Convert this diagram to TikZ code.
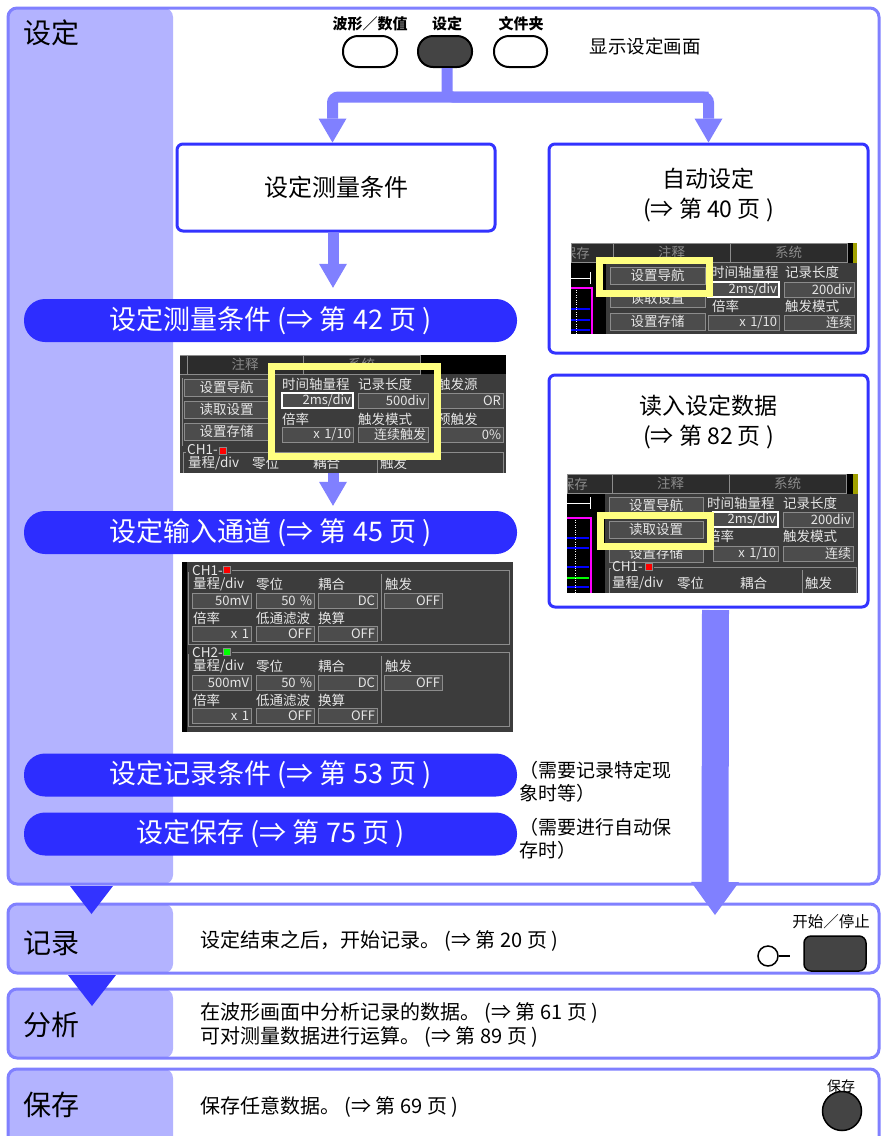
\documentclass[tikz,border=0pt]{standalone}
\usepackage{fontspec}
\setmainfont{Noto Sans CJK SC}
\usetikzlibrary{arrows.meta, positioning, calc}
\definecolor{framecol}{HTML}{8080FF}
\definecolor{bandcol}{HTML}{B3B3FF}
\definecolor{stepblue}{HTML}{3333FF}
\definecolor{pillblue}{HTML}{2D2DFF}
\definecolor{hiyellow}{HTML}{FFFF80}
\definecolor{keydark}{HTML}{444444}
\definecolor{panelcol}{HTML}{3C3C3C}
\definecolor{fieldcol}{HTML}{4C4C4C}
\definecolor{fieldedge}{HTML}{8C8C8C}
\definecolor{scrtext}{HTML}{E6E6E6}
\definecolor{tabcol}{HTML}{2C2C2C}
\definecolor{tabtext}{HTML}{8A8A8A}
\definecolor{chred}{HTML}{FF0000}
\definecolor{chgreen}{HTML}{00FF00}
\definecolor{olivebar}{HTML}{A0A000}
\definecolor{wavemag}{HTML}{FF00FF}
\definecolor{waveblue}{HTML}{0000FF}

\begin{document}
\begin{tikzpicture}[
    x=1pt, y=-1pt,
    secframe/.style={draw=framecol, line width=3pt, rounded corners=9pt, fill=white, minimum width=871pt, anchor=north west, inner sep=0pt, outer sep=0pt,
        path picture={\fill[bandcol] (path picture bounding box.north west) rectangle ([xshift=165pt]path picture bounding box.south west);}},
    seclabel/.style={anchor=west, inner sep=0pt, font=\fontsize{28}{28}\selectfont},
    bodytxt/.style={anchor=west, inner sep=0pt, align=left, font=\fontsize{20}{24}\selectfont},
    stepbox/.style={draw=stepblue, line width=3pt, rounded corners=6pt, fill=white},
    boxtxt/.style={align=center, inner sep=0pt, font=\fontsize{23}{30}\selectfont},
    pill/.style={fill=pillblue, rounded corners=21pt, minimum width=493pt, minimum height=43pt, inner sep=0pt, text=white, font=\fontsize{27}{27}\selectfont},
    note/.style={anchor=west, align=left, inner sep=0pt, font=\fontsize{19}{23}\selectfont},
    keybtn/.style={draw=black, line width=2pt, rounded corners=15pt, minimum width=54pt, minimum height=31pt, fill=white, inner sep=0pt},
    keylbl/.style={inner sep=0pt, font=\bfseries\fontsize{15}{15}\selectfont},
    flowarrow/.style={draw=framecol, line width=11pt, -{Triangle[width=28pt, length=24pt, line width=0pt]}},
    bigflow/.style={draw=framecol, line width=27pt, -{Triangle[width=48pt, length=33pt, line width=0pt]}},
    screen/.style={fill=black, anchor=north west, inner sep=0pt, outer sep=0pt},
    scrtab/.style={fill=tabcol, draw=fieldedge, line width=0.8pt, anchor=north west, minimum width=#1, minimum height=19pt, inner sep=0pt, outer sep=0pt, text=tabtext, font=\fontsize{13.5}{13.5}\selectfont},
    scrbtn/.style={fill=fieldcol, draw=fieldedge, line width=0.8pt, anchor=north west, minimum width=#1, minimum height=17pt, inner sep=0pt, outer sep=0pt, text=scrtext, font=\fontsize{13.5}{13.5}\selectfont},
    scrfield/.style={fill=fieldcol, draw=fieldedge, line width=0.8pt, anchor=north west, text width=#1, minimum height=15pt, inner xsep=2pt, inner ysep=0pt, outer sep=0pt, align=right, text=scrtext, font=\fontsize{13}{13}\selectfont},
    scrsel/.style={draw=white, line width=1.2pt},
    scrlbl/.style={anchor=west, inner sep=0pt, text=scrtext, font=\fontsize{13.5}{13.5}\selectfont},
    tablbl/.style={inner sep=0pt, text=tabtext, font=\fontsize{13.5}{13.5}\selectfont},
    chmark/.style={draw=fieldedge, line width=0.6pt, minimum size=7pt, inner sep=0pt},
    scrline/.style={draw=fieldedge, line width=0.8pt},
    hilite/.style={draw=hiyellow, line width=7pt}
]
\useasboundingbox (0,0) rectangle (881,1136);
\clip (0,0) rectangle (881,1136);

% Section frames
\node[secframe, minimum height=876pt] (setframe) at (8,8) {};
\node[secframe, minimum height=69pt] (recframe) at (8,904) {};
\node[secframe, minimum height=69pt] (anaframe) at (8,989) {};
\node[secframe, minimum height=90pt] (savframe) at (8,1069) {};

\node[seclabel] (setlbl) at (23,33) {设定};
\node[seclabel] (reclbl) at (23,943) {记录};
\node[seclabel] (analbl) at (23,1025) {分析};
\node[seclabel] (savlbl) at (23,1105) {保存};

% Keys
\node[keybtn] (wavekey) at (370,51.5) {};
\node[keybtn, fill=keydark] (setkey) at (445,51.5) {};
\node[keybtn, minimum width=53pt] (filekey) at (520.5,51.5) {};
\node[keylbl] (wavekeylbl) at (370,23.5) {波形／数值};
\node[keylbl] (setkeylbl) at (447,23.5) {设定};
\node[keylbl] (filekeylbl) at (521,23.5) {文件夹};
\node[inner sep=0pt, font=\fontsize{18.5}{18.5}\selectfont] (showtxt) at (645,46) {显示设定画面};

% Boxes
\node[stepbox, minimum width=318pt, minimum height=87pt, font=\fontsize{24}{24}\selectfont] (measbox) at (336,187.5) {设定测量条件};
\node[stepbox, minimum width=319pt, minimum height=209pt] (autobox) at (708.5,248.5) {};
\node[stepbox, minimum width=319pt, minimum height=232pt] (readbox) at (708.5,491) {};
\node[boxtxt] (autotxt) at (708.5,195) {自动设定\\(⇒ 第 40 页 )};
\node[boxtxt] (readtxt) at (708.5,422) {读入设定数据\\(⇒ 第 82 页 )};

% Arrows from key
\draw[flowarrow, rounded corners=6pt] ([yshift=45.5pt]autobox.north) -| ([xshift=-3.5pt]measbox.north);
\draw[flowarrow, rounded corners=6pt] ([xshift=2pt]setkey.south) |- ([yshift=45.5pt]autobox.north) -- (autobox.north);

% Pills
\node[pill] (p1) at (270.5,320.5) {设定测量条件 (⇒ 第 42 页 )};
\node[pill] (p2) at (270.5,532.5) {设定输入通道 (⇒ 第 45 页 )};
\node[pill] (p3) at (270.5,775) {设定记录条件 (⇒ 第 53 页 )};
\node[pill] (p4) at (270.5,834) {设定保存 (⇒ 第 75 页 )};
\node[note, right=2pt of p3, yshift=-7pt] (note1) {（需要记录特定现\\象时等）};
\node[note, right=2pt of p4, yshift=-5pt] (note2) {（需要进行自动保\\存时）};

\draw[flowarrow, shorten >=11pt] ([xshift=-3pt]measbox.south) -- ([xshift=-3pt]measbox.south |- p1.north);

% Screen: measurement conditions
\node[screen, minimum width=326pt, minimum height=118pt] (scr1) at (180,355) {};
\begin{scope}
\clip (scr1.north west) rectangle (scr1.south east);
\fill[panelcol] (180,374) rectangle (506,473);
\node[scrtab=8pt] (s1tab0) at (179,355) {};
\node[scrtab=116pt] (s1tab1) at (187,355) {注释};
\node[scrtab=117pt] (s1tab2) at (303,355) {系统};
\draw[scrline] (182,378) -- (182,446);
\node[scrbtn=85pt] (s1btn1) at (184,379) {设置导航};
\node[scrbtn=85pt] (s1btn2) at (184,401) {读取设置};
\node[scrbtn=85pt] (s1btn3) at (184,423) {设置存储};
\node[scrlbl] (s1lbl1) at (282,384) {时间轴量程};
\node[scrlbl] (s1lbl2) at (358,384) {记录长度};
\node[scrlbl] (s1lbl3) at (437,384) {触发源};
\node[scrfield=67pt, scrsel] (s1fld1) at (282,393) {2ms/div};
\node[scrfield=66pt] (s1fld2) at (358,393) {500div};
\node[scrfield=62pt] (s1fld3) at (437,393) {OR};
\node[scrlbl] (s1lbl4) at (282,419) {倍率};
\node[scrlbl] (s1lbl5) at (358,419) {触发模式};
\node[scrlbl] (s1lbl6) at (437,419) {预触发};
\node[scrfield=67pt] (s1fld4) at (282,427) {x 1/10};
\node[scrfield=66pt] (s1fld5) at (358,427) {连续触发};
\node[scrfield=62pt] (s1fld6) at (437,427) {0\%};
\node[scrlbl] (s1ch) at (187,450) {CH1-};
\node[chmark, fill=chred] (s1mk) at (223,450.5) {};
\draw[scrline] (228,452) -- (503,452) -- (503,473);
\draw[scrline] (183,473) -- (183,452) -- (186,452);
\draw[scrline] (377,455) -- (377,473);
\node[scrlbl] (s1lbl7) at (188,463) {量程/div};
\node[scrlbl] (s1lbl8) at (252,463) {零位};
\node[scrlbl] (s1lbl9) at (313,463) {耦合};
\node[scrlbl] (s1lbl10) at (380,463) {触发};
\draw[hilite] (271.5,366.5) rectangle (437.5,456.5);
\end{scope}

\draw[flowarrow, shorten >=5pt] ([xshift=-10pt]scr1.south) -- ([xshift=-10pt]scr1.south |- p2.north);

% Screen: input channels
\node[screen, minimum width=331pt, minimum height=170pt] (scr2) at (182,562) {};
\fill[panelcol] (187,562) rectangle (513,732);
\foreach \c/\oy/\rng/\mk in {1/0/50mV/chred, 2/82/500mV/chgreen} {
    \draw[scrline] (232,570+\oy) -- (509,570+\oy) -- (509,644+\oy) -- (188,644+\oy) -- (188,572+\oy);
    \node[scrlbl] (s2ch\c) at (192,571+\oy) {CH\c-};
    \node[chmark, fill=\mk] (s2mk\c) at (227,570+\oy) {};
    \draw[scrline] (381,574+\oy) -- (381,641+\oy);
    \node[scrlbl] (s2la\c) at (193,584+\oy) {量程/div};
    \node[scrlbl] (s2lb\c) at (256,584+\oy) {零位};
    \node[scrlbl] (s2lc\c) at (318,584+\oy) {耦合};
    \node[scrlbl] (s2ld\c) at (385,584+\oy) {触发};
    \node[scrfield=55pt] (s2fa\c) at (192,593+\oy) {\rng};
    \node[scrfield=54pt] (s2fb\c) at (256,593+\oy) {50 \%};
    \node[scrfield=55pt] (s2fc\c) at (318,593+\oy) {DC};
    \node[scrfield=54pt] (s2fd\c) at (384,593+\oy) {OFF};
    \node[scrlbl] (s2le\c) at (193,618+\oy) {倍率};
    \node[scrlbl] (s2lf\c) at (256,618+\oy) {低通滤波};
    \node[scrlbl] (s2lg\c) at (318,618+\oy) {换算};
    \node[scrfield=55pt] (s2fe\c) at (192,626+\oy) {x 1};
    \node[scrfield=54pt] (s2ff\c) at (256,626+\oy) {OFF};
    \node[scrfield=55pt] (s2fg\c) at (318,626+\oy) {OFF};
}

% Screen: auto setting
\node[screen, minimum width=286pt, minimum height=91pt] (scr3) at (571,243) {};
\begin{scope}
\clip (scr3.north west) rectangle (scr3.south east);
\node[scrtab=42pt] (s3tab0) at (571,243) {};
\node[tablbl, anchor=east] (s3tab0lbl) at (590,253) {保存};
\node[scrtab=117pt] (s3tab1) at (613,243) {注释};
\node[scrtab=117pt] (s3tab2) at (730,243) {系统};
\fill[olivebar] (853,243) rectangle (857,263);
\fill[panelcol] (606,263) rectangle (857,334);
\draw[white, line width=1pt] (571,278) -- (590,278) (590,272) -- (590,284);
\draw[wavemag, line width=1.2pt] (571,288) -- (592,288) -- (592,334);
\draw[waveblue, line width=1.5pt] (571,309) -- (590,309) (571,320) -- (590,320) (571,330) -- (590,330);
\draw[white, dotted] (576,290) -- (576,334);
\node[scrbtn=95pt] (s3btn1) at (610,267) {设置导航};
\node[scrbtn=95pt] (s3btn2) at (610,290) {读取设置};
\node[scrbtn=95pt] (s3btn3) at (610,313) {设置存储};
\node[scrlbl] (s3lbl1) at (711,272) {时间轴量程};
\node[scrlbl] (s3lbl2) at (785,272) {记录长度};
\node[scrfield=67pt, scrsel] (s3fld1) at (708,282) {2ms/div};
\node[scrfield=66pt] (s3fld2) at (784,282) {200div};
\node[scrlbl] (s3lbl3) at (712,306) {倍率};
\node[scrlbl] (s3lbl4) at (785,306) {触发模式};
\node[scrfield=67pt] (s3fld3) at (708,315) {x 1/10};
\node[scrfield=66pt] (s3fld4) at (784,315) {连续};
\draw[hilite] (599.5,260.5) rectangle (709.5,293.5);
\end{scope}

% Screen: load settings
\node[screen, minimum width=291pt, minimum height=119pt] (scr4) at (567,474) {};
\begin{scope}
\clip (scr4.north west) rectangle (scr4.south east);
\node[scrtab=45pt] (s4tab0) at (567,474) {};
\node[tablbl, anchor=east] (s4tab0lbl) at (588,484) {保存};
\node[scrtab=117pt] (s4tab1) at (612,474) {注释};
\node[scrtab=117pt] (s4tab2) at (729,474) {系统};
\fill[olivebar] (853,474) rectangle (858,494);
\fill[panelcol] (605,494) rectangle (858,593);
\draw[white, line width=1pt] (567,503) -- (590,503) (590,497) -- (590,509);
\draw[wavemag, line width=1.2pt] (567,518) -- (591,518) -- (591,593);
\draw[waveblue, line width=1.5pt] (567,538) -- (589,538) (567,548) -- (589,548) (567,567) -- (589,567) (567,587) -- (589,587);
\draw[chgreen, line width=1.2pt] (567,578) -- (589,578);
\draw[white, dotted] (575,520) -- (575,593);
\node[scrbtn=94pt] (s4btn1) at (609,497) {设置导航};
\node[scrbtn=94pt] (s4btn2) at (609,521) {读取设置};
\node[scrbtn=94pt] (s4btn3) at (609,545) {设置存储};
\node[scrlbl] (s4lbl1) at (707,503) {时间轴量程};
\node[scrlbl] (s4lbl2) at (783,503) {记录长度};
\node[scrfield=61pt, scrsel] (s4fld1) at (713,512) {2ms/div};
\node[scrfield=66pt] (s4fld2) at (783,512) {200div};
\node[scrlbl] (s4lbl3) at (707,536) {倍率};
\node[scrlbl] (s4lbl4) at (783,536) {触发模式};
\node[scrfield=61pt] (s4fld3) at (713,546) {x 1/10};
\node[scrfield=66pt] (s4fld4) at (783,546) {连续};
\node[scrlbl] (s4ch) at (612,567) {CH1-};
\node[chmark, fill=chred] (s4mk) at (649,566.5) {};
\draw[scrline] (654,567) -- (856,567) -- (856,593);
\draw[scrline] (609,593) -- (609,568) -- (611,568);
\draw[scrline] (802,570) -- (802,593);
\node[scrlbl] (s4lbl5) at (612,583) {量程/div};
\node[scrlbl] (s4lbl6) at (677,583) {零位};
\node[scrlbl] (s4lbl7) at (740,583) {耦合};
\node[scrlbl] (s4lbl8) at (805,583) {触发};
\draw[hilite] (600.5,515.5) rectangle (710.5,546.5);
\end{scope}

% Flow to the lower steps
\coordinate (recin) at (715,915);
\draw[bigflow] ([xshift=7pt, yshift=-1.5pt]readbox.south) -- (recin);
\fill[stepblue] ([xshift=62pt, yshift=-2pt]setframe.south west) -- ++(43,0) -- ++(-21.5,28) -- cycle;
\fill[stepblue] ([xshift=60pt, yshift=-2pt]recframe.south west) -- ++(48,0) -- ++(-24,31) -- cycle;

% Step texts
\node[bodytxt] (rectxt) at (200,941) {设定结束之后，开始记录。 (⇒ 第 20 页 )};
\node[bodytxt] (anatxt) at (200,1025) {在波形画面中分析记录的数据。 (⇒ 第 61 页 )\\可对测量数据进行运算。 (⇒ 第 89 页 )};
\node[bodytxt] (savtxt) at (200,1107) {保存任意数据。 (⇒ 第 69 页 )};

% Start/stop and save keys
\node[draw=black, line width=1.5pt, fill=keydark, rounded corners=7pt, minimum width=62pt, minimum height=35pt] (startkey) at (835,953.5) {};
\node[keylbl, font=\fontsize{15.5}{15.5}\selectfont] (startlbl) at (831,922) {开始／停止};
\node[circle, draw=black, line width=1.5pt, fill=white, minimum size=20pt, inner sep=0pt] (recled) at (768,956) {};
\draw[line width=1.5pt] (recled.east) -- ++(11,0);
\node[circle, draw=black, line width=1.5pt, fill=keydark, minimum size=39pt, inner sep=0pt] (savekey) at (842,1111) {};
\node[keylbl, font=\fontsize{14}{14}\selectfont] (savkeylbl) at (841,1086) {保存};

\end{tikzpicture}
\end{document}
